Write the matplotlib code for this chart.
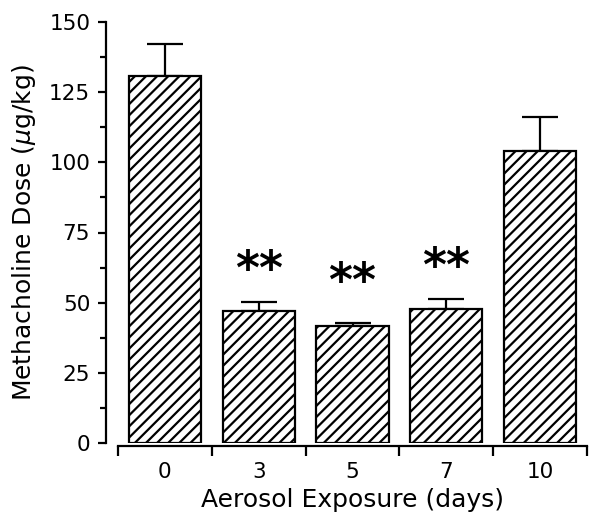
import matplotlib
matplotlib.use("Agg")
import matplotlib.pyplot as plt
from matplotlib.ticker import MultipleLocator, FixedLocator

days = ["0", "3", "5", "7", "10"]
means = [130.7, 47.0, 41.8, 47.8, 104.1]
sem = [11.5, 3.3, 0.8, 3.5, 12.1]
sig = ["", "**", "**", "**", ""]
sig_y = [0, 61, 57, 62, 0]

plt.rcParams['hatch.linewidth'] = 1.6
plt.rcParams['font.family'] = ['DejaVu Sans']
plt.rcParams['mathtext.fontset'] = 'dejavusans'

fig = plt.figure(figsize=(5.89, 5.18), dpi=100)
ax = fig.add_axes([118/589, 1-443/518, (587-118)/589, (443-22)/518])

x = list(range(len(days)))
ax.bar(x, means, width=0.77, color='white', edgecolor='black', linewidth=1.6,
       hatch='///', zorder=2)
ax.errorbar(x, means, yerr=[[0]*len(sem), sem], fmt='none', ecolor='black',
            elinewidth=1.6, capsize=13.3, capthick=1.6, zorder=1)
for xi, s, yy in zip(x, sig, sig_y):
    if s:
        ax.text(xi, yy, s, ha='center', va='center', fontsize=33, fontweight='bold')

ax.set_xlim(-0.5, len(days) - 0.5)
ax.set_ylim(0, 150)
ax.spines['top'].set_visible(False)
ax.spines['right'].set_visible(False)
ax.spines['left'].set_position(('outward', 9))
ax.spines['bottom'].set_position(('outward', 2))
for s in ['left', 'bottom']:
    ax.spines[s].set_linewidth(1.6)

ax.yaxis.set_major_locator(MultipleLocator(25))
ax.yaxis.set_minor_locator(MultipleLocator(12.5))
ax.tick_params(axis='y', which='major', direction='out', length=6, width=1.6, labelsize=15.5, pad=5)
ax.tick_params(axis='y', which='minor', direction='out', length=4, width=1.6)

ax.xaxis.set_major_locator(FixedLocator([i - 0.5 for i in range(len(days) + 1)]))
ax.xaxis.set_minor_locator(FixedLocator(x))
ax.set_xticklabels([])
ax.set_xticklabels(days, minor=True)
ax.tick_params(axis='x', which='major', direction='out', length=7, width=1.6)
ax.tick_params(axis='x', which='minor', length=0, labelsize=15.5, pad=12)

ax.set_xlabel("Aerosol Exposure (days)", fontsize=18, labelpad=4)
ax.set_ylabel(r"Methacholine Dose ($\mu$g/kg)", fontsize=18, labelpad=8)

fig.savefig("out.png", dpi=100)
